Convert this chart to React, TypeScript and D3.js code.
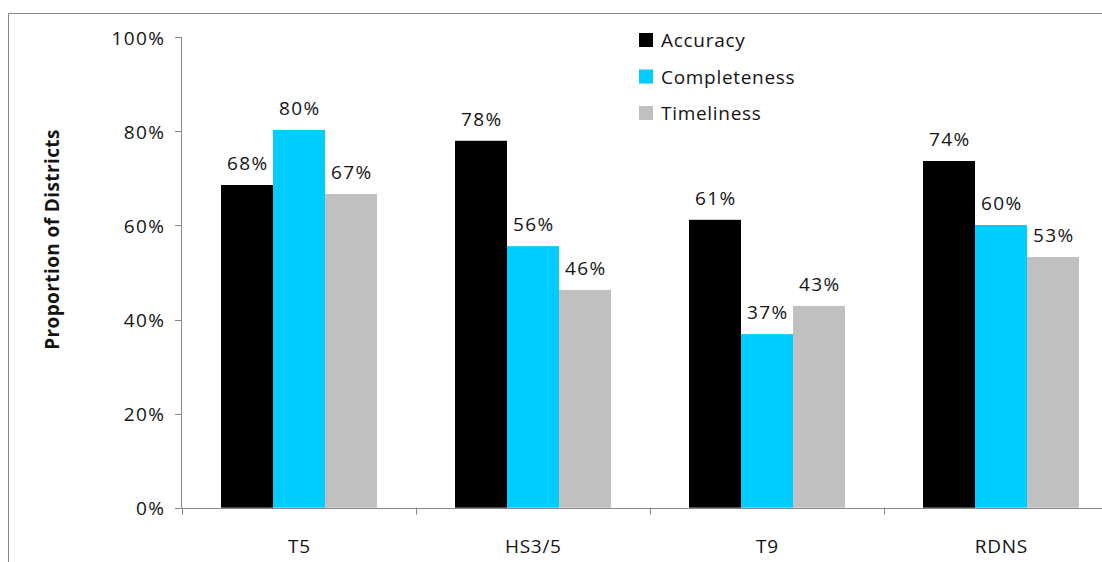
import React from "react";
import * as d3 from "d3";

const categories = ["T5", "HS3/5", "T9", "RDNS"];
const seriesNames = ["Accuracy", "Completeness", "Timeliness"];
const accuracy = [0.686, 0.78, 0.612, 0.737];
const completeness = [0.803, 0.556, 0.369, 0.601];
const timeliness = [0.667, 0.463, 0.429, 0.533];
const valueLabels = [
  ["68%", "78%", "61%", "74%"],
  ["80%", "56%", "37%", "60%"],
  ["67%", "46%", "43%", "53%"],
];
const yTicks = [0, 0.2, 0.4, 0.6, 0.8, 1.0];
const colors = ["#000000", "#00CCFF", "#C0C0C0"];

const W = 1102;
const H = 562;
const FONT = "'Open Sans', sans-serif";
const NUM_LS = 1.4;
const WORD_LS = 0.7;

export default function App() {
  const series = [accuracy, completeness, timeliness];
  const x0 = 182;
  const band = 234;
  const x = d3
    .scaleBand<string>()
    .domain(categories)
    .range([x0, x0 + band * categories.length]);
  const barW = band / 4.5;
  const y = d3.scaleLinear().domain([0, 1]).range([507.7, 37.3]);
  const axisColor = "#868686";
  const fmt = d3.format(".0%");
  const textColor = "#141414";

  return (
    <svg
      width={W}
      height={H}
      style={{ position: "fixed", left: 0, top: 0, background: "#fff" }}
      fontFamily={FONT}
    >
      <rect x={0} y={0} width={W} height={H} fill="#fff" />
      {/* frame */}
      <path d={`M8.5,${H}V13.5H${W}`} fill="none" stroke={axisColor} strokeWidth={1} />

      {/* bars */}
      {series.map((vals, si) =>
        vals.map((v, ci) => {
          const bx = (x(categories[ci]) as number) + barW * 0.75 + si * barW;
          return (
            <g key={`${si}-${ci}`}>
              <rect
                x={bx}
                y={y(v)}
                width={barW}
                height={y(0) - y(v)}
                fill={colors[si]}
              />
              <text
                x={bx + barW / 2 + NUM_LS / 2}
                y={y(v) - 15}
                textAnchor="middle"
                fontSize={19}
                letterSpacing={NUM_LS}
                fill={textColor}
              >
                {valueLabels[si][ci]}
              </text>
            </g>
          );
        })
      )}

      {/* y axis */}
      <line x1={x0 - 0.5} x2={x0 - 0.5} y1={y(1)} y2={y(0)} stroke={axisColor} />
      {yTicks.map((t) => (
        <g key={t}>
          <line x1={x0 - 7} x2={x0} y1={Math.round(y(t)) + 0.5} y2={Math.round(y(t)) + 0.5} stroke={axisColor} />
          <text
            x={x0 - 18 + NUM_LS}
            y={y(t) + 7.5}
            textAnchor="end"
            fontSize={19}
            letterSpacing={NUM_LS}
            fill={textColor}
          >
            {fmt(t)}
          </text>
        </g>
      ))}

      {/* x axis */}
      <line x1={x0 - 7} x2={W} y1={Math.round(y(0)) + 0.5} y2={Math.round(y(0)) + 0.5} stroke={axisColor} />
      {categories.map((c) => (
        <g key={c}>
          <line
            x1={Math.round(x(c) as number) + 0.5}
            x2={Math.round(x(c) as number) + 0.5}
            y1={y(0)}
            y2={y(0) + 7}
            stroke={axisColor}
          />
          <text
            x={(x(c) as number) + band / 2 + WORD_LS / 2}
            y={553}
            textAnchor="middle"
            fontSize={19}
            letterSpacing={WORD_LS}
            fill={textColor}
          >
            {c}
          </text>
        </g>
      ))}

      {/* y axis title */}
      <text
        transform={`translate(59,239.5) rotate(-90)`}
        textAnchor="middle"
        fontSize={19}
        fontWeight="bold"
        letterSpacing={0.4}
        fill={textColor}
      >
        Proportion of Districts
      </text>

      {/* legend */}
      {seriesNames.map((s, i) => (
        <g key={s} transform={`translate(639,${33 + i * 36.5})`}>
          <rect x={0} y={0} width={14} height={14} fill={colors[i]} />
          <text x={22} y={14} fontSize={19} fill={textColor} letterSpacing={WORD_LS}>
            {s}
          </text>
        </g>
      ))}
    </svg>
  );
}
